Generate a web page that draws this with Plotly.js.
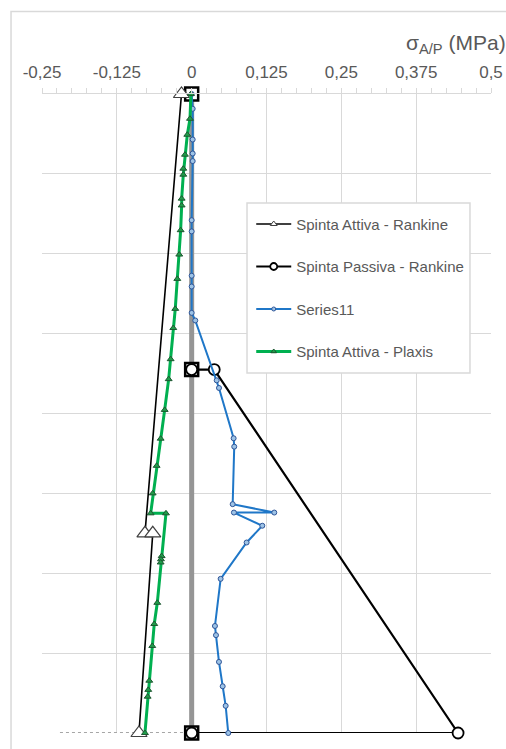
<!DOCTYPE html>
<html>
<head>
<meta charset="utf-8">
<script src="https://cdn.plot.ly/plotly-3.0.1.min.js"></script>
<style>
  html, body { margin: 0; padding: 0; background: #fff; }
  #chart { width: 506px; height: 749px; }
</style>
</head>
<body>
<div id="chart"></div>
<script>
// ---- Data (stress in MPa, depth in m) ----
var xTickVals = [-0.25, -0.125, 0, 0.125, 0.25, 0.375, 0.5];
var xTickText = ['-0,25', '-0,125', '0', '0,125', '0,25', '0,375', '0,5'];

// Spinta Attiva - Rankine
var rankAttX = [-0.017, -0.078, -0.065, -0.088];
var rankAttY = [0, 11.0, 11.0, 16.0];

// Spinta Passiva - Rankine
var rankPasX = [0, 0.0377, 0.445, 0];
var rankPasY = [6.9, 6.9, 16.0, 16.0];

// Series11
var s11X = [0.0, 0.0017, 0.0017, 0.0017, 0.0017, 0.0, 0.0, 0.0, 0.0, 0.0, 0.006,
            0.0418, 0.0456, 0.0701, 0.0711, 0.0685, 0.138, 0.0706, 0.118, 0.0918,
            0.0484, 0.0389, 0.0406, 0.0456, 0.0518, 0.0568, 0.0611];
var s11Y = [0, 0.37, 1.14, 1.49, 1.68, 3.16, 3.44, 4.55, 4.82, 5.48, 5.67,
            7.17, 7.36, 8.62, 8.83, 10.27, 10.48, 10.48, 10.81, 11.23,
            12.14, 13.32, 13.55, 14.22, 14.83, 15.32, 16.0];

// Spinta Attiva - Plaxis
var plaxX = [-0.0012, -0.0028, -0.0073, -0.0112, -0.014, -0.014, -0.0167, -0.0167, -0.0184,
             -0.0207, -0.024, -0.0274, -0.0307, -0.0351, -0.0384, -0.0451, -0.0518, -0.0585,
             -0.0651, -0.0685, -0.0429, -0.0501, -0.0513, -0.0518, -0.0574, -0.0625, -0.0658,
             -0.0708, -0.0725, -0.0735, -0.078];
var plaxY = [0, 0.62, 1.02, 1.52, 1.87, 2.02, 2.62, 2.79, 3.41,
             4.02, 4.63, 5.38, 5.86, 6.64, 7.14, 7.91, 8.63, 9.31,
             10.0, 10.5, 10.5, 11.57, 11.65, 11.73, 12.74, 13.27, 13.82,
             14.69, 14.92, 15.09, 16.0];

// Wall (paratia)
var wallX = [0, 0];
var wallY = [0, 16];
var wallNodesX = [0, 0, 0];
var wallNodesY = [0, 6.9, 16];

// Dotted base line
var baseX = [-0.22, 0];
var baseY = [16, 16];

var traces = [
  { x: wallX, y: wallY, mode: 'lines', line: { color: '#959595', width: 5 }, showlegend: false, hoverinfo: 'skip' },
  { x: baseX, y: baseY, mode: 'lines', line: { color: '#a6a6a6', width: 2, dash: 'dot' }, showlegend: false, hoverinfo: 'skip' },
  { x: wallNodesX, y: wallNodesY, mode: 'markers', marker: { symbol: 'square', size: 13, color: '#ffffff', line: { color: '#000000', width: 2.5 } }, showlegend: false, cliponaxis: false },
  { x: rankPasX, y: rankPasY, mode: 'lines+markers', name: 'Spinta Passiva - Rankine',
    line: { color: '#000000', width: 2.2 },
    marker: { symbol: 'circle', size: 11, color: '#ffffff', line: { color: '#000000', width: 1.8 } },
    showlegend: false, cliponaxis: false },
  { x: rankAttX, y: rankAttY, mode: 'lines+markers', name: 'Spinta Attiva - Rankine',
    line: { color: '#000000', width: 1.6 },
    marker: { symbol: 'triangle-up', size: 14, color: '#ffffff', line: { color: '#404040', width: 1.2 } },
    showlegend: false, cliponaxis: false },
  { x: s11X, y: s11Y, mode: 'lines+markers', name: 'Series11',
    line: { color: '#1f77c8', width: 2 },
    marker: { symbol: 'circle', size: 5, color: '#9dc3e6', line: { color: '#2f5597', width: 1 } },
    showlegend: false, cliponaxis: false },
  { x: plaxX, y: plaxY, mode: 'lines+markers', name: 'Spinta Attiva - Plaxis',
    line: { color: '#00b050', width: 3 },
    marker: { symbol: 'triangle-up', size: 6, color: '#1f9e4a', line: { color: '#1e5631', width: 1 } },
    showlegend: false, cliponaxis: false },
  // legend entries
  { x: [null], y: [null], mode: 'lines+markers', name: 'Spinta Attiva - Rankine', legendgroup: 'a',
    line: { color: '#000000', width: 1.6 }, marker: { symbol: 'triangle-up', size: 6, color: '#ffffff', line: { color: '#404040', width: 1 } } },
  { x: [null], y: [null], mode: 'lines+markers', name: 'Spinta Passiva - Rankine', legendgroup: 'b',
    line: { color: '#000000', width: 2 }, marker: { symbol: 'circle', size: 7, color: '#ffffff', line: { color: '#000000', width: 1.8 } } },
  { x: [null], y: [null], mode: 'lines+markers', name: 'Series11', legendgroup: 'c',
    line: { color: '#1f77c8', width: 2 }, marker: { symbol: 'circle', size: 4, color: '#9dc3e6', line: { color: '#2f5597', width: 1 } } },
  { x: [null], y: [null], mode: 'lines+markers', name: 'Spinta Attiva - Plaxis', legendgroup: 'd',
    line: { color: '#00b050', width: 3 }, marker: { symbol: 'triangle-up', size: 5, color: '#1f9e4a', line: { color: '#1e5631', width: 1 } } }
];

var layout = {
  width: 506, height: 749,
  margin: { l: 42, r: 15, t: 94, b: 16 },
  paper_bgcolor: '#ffffff', plot_bgcolor: '#ffffff',
  font: { family: 'Liberation Sans, Arial, sans-serif', color: '#595959', size: 16 },
  xaxis: {
    side: 'top', range: [-0.25, 0.5], autorange: false,
    tickvals: xTickVals, ticktext: xTickText,
    showgrid: true, gridcolor: '#d9d9d9', gridwidth: 1,
    zeroline: false, showline: true, linecolor: '#d9d9d9', linewidth: 1,
    ticks: 'outside', ticklen: 5, tickcolor: '#d9d9d9',
    ticklabelstandoff: 3,
    minor: { dtick: 0.025, ticks: 'outside', ticklen: 5, tickcolor: '#d9d9d9', showgrid: false },
    tickfont: { size: 17, color: '#595959' }
  },
  yaxis: {
    range: [16, 0], autorange: false, dtick: 2,
    showgrid: true, gridcolor: '#d9d9d9', gridwidth: 1,
    zeroline: false, showline: false, showticklabels: false, ticks: ''
  },
  showlegend: true,
  legend: {
    x: 0.466, y: 0.822, xanchor: 'left', yanchor: 'top',
    bgcolor: 'rgba(0,0,0,0)', borderwidth: 0,
    font: { size: 15, color: '#595959' },
    itemwidth: 35,
    traceorder: 'grouped', tracegroupgap: 20
  },
  annotations: [{
    xref: 'paper', yref: 'paper', x: 0.806, y: 1.0775, xanchor: 'left', yanchor: 'middle',
    text: 'σ<sub>A/P</sub> (MPa)', showarrow: false, font: { size: 21, color: '#595959' }
  }],
  shapes: [{
    type: 'rect', xref: 'paper', yref: 'paper', x0: -0.069, x1: 1.5, y0: -0.2, y1: 1.129,
    line: { color: '#d9d9d9', width: 1.5 }, fillcolor: 'rgba(0,0,0,0)', layer: 'below'
  }, {
    type: 'rect', xref: 'paper', yref: 'paper', x0: 0.4566, x1: 0.9532, y0: 0.5634, y1: 0.8294,
    line: { color: '#d9d9d9', width: 1.5 }, fillcolor: '#ffffff', layer: 'above'
  }]
};

Plotly.newPlot('chart', traces, layout, { displayModeBar: false, staticPlot: true });
</script>
</body>
</html>
